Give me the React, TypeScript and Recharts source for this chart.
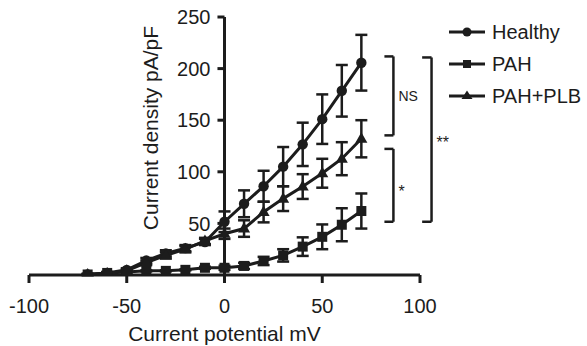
import React from 'react';
import { ComposedChart, Line, XAxis, YAxis, ErrorBar, ReferenceLine, Legend } from 'recharts';

const potentials = [-70, -60, -50, -40, -30, -20, -10, 0, 10, 20, 30, 40, 50, 60, 70];
const healthy = [0.5, 2, 5, 14, 21, 26, 32, 51.6, 69, 86, 105, 126.6, 151, 178.5, 205.7];
const healthyErr = [0.5, 1, 1.5, 2.5, 3, 3, 3, 10, 13, 15, 19, 21, 24, 25, 27];
const pah = [0.5, 2, 3, 4, 4, 5, 7, 7, 8.8, 13.6, 19, 27.5, 37, 48.7, 62];
const pahErr = [0.5, 0.5, 0.5, 0.5, 0.5, 0.5, 1, 2, 3, 4, 6, 9, 12, 16, 17];
const plb = [0.5, 1.5, 4, 12, 19, 25, 33, 40, 45, 61, 74, 85.7, 98.6, 112.7, 132];
const plbErr = [0.5, 1, 1.5, 2, 3, 3, 3, 5, 8, 10, 12, 12, 14, 16, 18];

const xTicks = [-100, -50, 0, 50, 100];
const yTicks = [50, 100, 150, 200, 250];

const seriesNames = ['Healthy', 'PAH', 'PAH+PLB'];
const seriesShapes = ['circle', 'square', 'triangle'];

const bracketLabels = ['NS', '*', '**'];
const bracketX0 = [81.8, 81.8, 101.1];
const bracketX1 = [86.4, 86.4, 105.9];
const bracketTop = [211.8, 122.2, 210.8];
const bracketBottom = [135.3, 51.6, 51.6];
const bracketDy = [0, 6, 3];
const bracketFont = [14, 16, 16];

const data = potentials.map((x, i) => ({
  x,
  healthy: healthy[i],
  healthyErr: healthyErr[i],
  pah: pah[i],
  pahErr: pahErr[i],
  plb: plb[i],
  plbErr: plbErr[i],
}));

const C = '#1c1c1c';
const FONT = '"Liberation Sans", Arial, Helvetica, sans-serif';

const CircleDot = (props: any) => {
  const { cx, cy, index } = props;
  if (cx == null || cy == null) return <g key={`c-${index}`} />;
  return <circle key={`c-${index}`} cx={cx} cy={cy} r={5.2} fill={C} stroke="none" />;
};
const SquareDot = (props: any) => {
  const { cx, cy, index } = props;
  if (cx == null || cy == null) return <g key={`s-${index}`} />;
  return <rect key={`s-${index}`} x={cx - 5} y={cy - 5} width={10} height={10} fill={C} stroke="none" />;
};
const TriangleDot = (props: any) => {
  const { cx, cy, index } = props;
  if (cx == null || cy == null) return <g key={`t-${index}`} />;
  return (
    <polygon
      key={`t-${index}`}
      points={`${cx},${cy - 6.5} ${cx - 6},${cy + 4} ${cx + 6},${cy + 4}`}
      fill={C}
      stroke="none"
    />
  );
};

const LegendMarker = ({ shape }: { shape: string }) => (
  <svg width={36} height={14} style={{ display: 'block' }}>
    <line x1={0} y1={7} x2={36} y2={7} stroke={C} strokeWidth={3} />
    {shape === 'circle' && <circle cx={18} cy={7} r={4.5} fill={C} />}
    {shape === 'square' && <rect x={14} y={3} width={8} height={8} fill={C} />}
    {shape === 'triangle' && <polygon points="18,1.5 12.5,10 23.5,10" fill={C} />}
  </svg>
);

const renderLegend = () => (
  <div style={{ fontFamily: FONT, fontSize: 20, color: C }}>
    {seriesNames.map((name, i) => (
      <div key={name} style={{ display: 'flex', alignItems: 'center', height: 32 }}>
        <LegendMarker shape={seriesShapes[i]} />
        <span style={{ marginLeft: 7, lineHeight: '32px', whiteSpace: 'nowrap' }}>{name}</span>
      </div>
    ))}
  </div>
);

const yAxisTitle = (props: any) => {
  const vb = props.viewBox || {};
  const cx = vb.x - 74;
  const cy = vb.y + vb.height / 2 - 18;
  return (
    <text
      x={cx}
      y={cy}
      transform={`rotate(-90, ${cx}, ${cy})`}
      textAnchor="middle"
      dy={7.5}
      fontSize={21}
      fontFamily={FONT}
      fill={C}
    >
      Current density pA/pF
    </text>
  );
};

const bracketLabel = (i: number) => (props: any) => {
  const vb = props.viewBox || {};
  const fs = bracketFont[i];
  return (
    <text
      x={vb.x + (vb.width || 0) + 5}
      y={vb.y + vb.height / 2 + 0.355 * fs + bracketDy[i]}
      fontSize={fs}
      fontFamily={FONT}
      fill={C}
      textAnchor="start"
    >
      {bracketLabels[i]}
    </text>
  );
};

const bracketElements = bracketLabels.flatMap((lab, i) => [
  <ReferenceLine
    key={`bt-${i}`}
    ifOverflow="visible"
    segment={[{ x: bracketX0[i], y: bracketTop[i] }, { x: bracketX1[i], y: bracketTop[i] }]}
    stroke={C}
    strokeWidth={2.5}
  />,
  <ReferenceLine
    key={`bv-${i}`}
    ifOverflow="visible"
    segment={[{ x: bracketX1[i], y: bracketTop[i] }, { x: bracketX1[i], y: bracketBottom[i] }]}
    stroke={C}
    strokeWidth={2.5}
    label={bracketLabel(i)}
  />,
  <ReferenceLine
    key={`bb-${i}`}
    ifOverflow="visible"
    segment={[{ x: bracketX0[i], y: bracketBottom[i] }, { x: bracketX1[i], y: bracketBottom[i] }]}
    stroke={C}
    strokeWidth={2.5}
  />,
]);

const yTickElements = yTicks.map((v) => (
  <ReferenceLine
    key={`yt-${v}`}
    ifOverflow="visible"
    segment={[{ x: -3.6, y: v }, { x: 0, y: v }]}
    stroke={C}
    strokeWidth={3}
    label={{ value: String(v), position: 'left', offset: 7, fontSize: 20, fill: C, fontFamily: FONT }}
  />
));

export default function App() {
  return (
    <div style={{ position: 'absolute', left: 0, top: 0, background: '#fff' }}>
      <ComposedChart
        width={587}
        height={346}
        data={data}
        margin={{ top: 17, right: 167, bottom: 41, left: 29 }}
      >
        <XAxis
          type="number"
          dataKey="x"
          domain={[-100, 100]}
          ticks={xTicks}
          allowDataOverflow
          height={30}
          tickSize={8}
          tickMargin={16}
          axisLine={{ stroke: C, strokeWidth: 3 }}
          tickLine={{ stroke: C, strokeWidth: 3 }}
          tick={{ fill: C, fontSize: 20, fontFamily: FONT }}
          label={{ value: 'Current potential mV', position: 'bottom', offset: 21, fontSize: 21, fill: C, fontFamily: FONT }}
        />
        <YAxis type="number" domain={[0, 250]} hide allowDataOverflow />
        <ReferenceLine
          ifOverflow="visible"
          segment={[{ x: 0, y: 0 }, { x: 0, y: 250 }]}
          stroke={C}
          strokeWidth={3}
          label={yAxisTitle}
        />
        {yTickElements}
        {bracketElements}
        <Line
          type="linear"
          dataKey="healthy"
          name="Healthy"
          stroke={C}
          strokeWidth={3}
          dot={CircleDot}
          activeDot={false}
          isAnimationActive={false}
        >
          <ErrorBar dataKey="healthyErr" direction="y" width={6} stroke={C} strokeWidth={2.5} />
        </Line>
        <Line
          type="linear"
          dataKey="pah"
          name="PAH"
          stroke={C}
          strokeWidth={3}
          dot={SquareDot}
          activeDot={false}
          isAnimationActive={false}
        >
          <ErrorBar dataKey="pahErr" direction="y" width={6} stroke={C} strokeWidth={2.5} />
        </Line>
        <Line
          type="linear"
          dataKey="plb"
          name="PAH+PLB"
          stroke={C}
          strokeWidth={3}
          dot={TriangleDot}
          activeDot={false}
          isAnimationActive={false}
        >
          <ErrorBar dataKey="plbErr" direction="y" width={6} stroke={C} strokeWidth={2.5} />
        </Line>
        <Legend
          layout="vertical"
          align="center"
          verticalAlign="middle"
          content={renderLegend}
          wrapperStyle={{ left: 449, top: 16, width: 138 }}
        />
      </ComposedChart>
    </div>
  );
}
